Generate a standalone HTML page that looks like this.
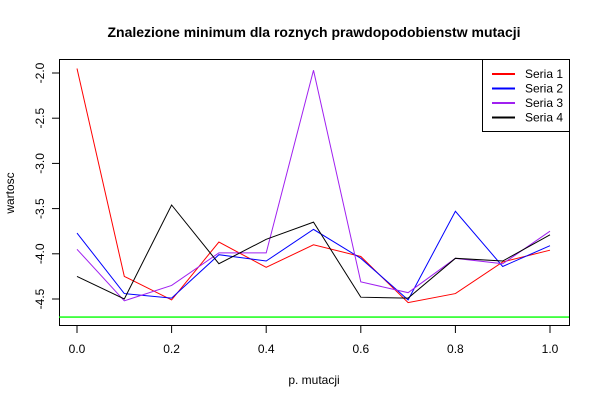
<!DOCTYPE html>
<html><head><meta charset="utf-8"><style>
body{margin:0;background:#fff}
svg text{font-family:"Liberation Sans",Arial,sans-serif;font-size:12px}
</style></head><body>
<svg id="c" width="600" height="400"></svg>
<script>
const xs=[0,0.1,0.2,0.3,0.4,0.5,0.6,0.7,0.8,0.9,1.0];
const seria1=[-1.95,-4.25,-4.51,-3.87,-4.15,-3.90,-4.03,-4.54,-4.44,-4.09,-3.96];
const seria2=[-3.77,-4.44,-4.49,-4.01,-4.08,-3.73,-4.05,-4.51,-3.53,-4.14,-3.91];
const seria3=[-3.95,-4.52,-4.35,-3.99,-3.99,-1.97,-4.31,-4.43,-4.05,-4.11,-3.75];
const seria4=[-4.25,-4.50,-3.46,-4.11,-3.84,-3.65,-4.48,-4.49,-4.05,-4.08,-3.79];
const refLine=-4.7;
const xTicks=[0,0.2,0.4,0.6,0.8,1.0];
const xTickLabels=["0.0","0.2","0.4","0.6","0.8","1.0"];
const yTicks=[-2.0,-2.5,-3.0,-3.5,-4.0,-4.5];
const yTickLabels=["-2.0","-2.5","-3.0","-3.5","-4.0","-4.5"];
const seriesNames=["Seria 1","Seria 2","Seria 3","Seria 4"];
const seriesColors=["#ff0000","#0000ff","#a020f0","#000000"];
const series=[seria1,seria2,seria3,seria4];

const NS="http://www.w3.org/2000/svg";
const svg=document.getElementById('c');
const X=v=>77+v*473;
const Y=v=>73+(-2-v)*90.4;
function mk(tag,attrs,parent){const e=document.createElementNS(NS,tag);for(const k in attrs)e.setAttribute(k,attrs[k]);(parent||svg).appendChild(e);return e;}

let t=mk('text',{x:314,y:37,'text-anchor':'middle','font-weight':'bold','style':'font-size:14px'});
t.textContent='Znalezione minimum dla roznych prawdopodobienstw mutacji';



let box=mk('rect',{x:59.5,y:59.5,width:510,height:266,fill:'none',stroke:'#000'});



let g=mk('line',{x1:59,x2:569,y1:Y(refLine),y2:Y(refLine),stroke:'#00ff00','stroke-width':1.3});



series.forEach((s,i)=>{
  const p=mk('polyline',{points:s.map((v,j)=>X(xs[j])+','+Y(v)).join(' '),fill:'none',stroke:seriesColors[i],'stroke-width':1});
  
  
});

xTicks.forEach((v,i)=>{
  mk('line',{x1:X(v),x2:X(v),y1:326,y2:333,stroke:'#000'});
  const tx=mk('text',{x:X(v),y:353,'text-anchor':'middle'});
  tx.textContent=xTickLabels[i];
  
  
});
yTicks.forEach((v,i)=>{
  mk('line',{x1:52,x2:59,y1:Y(v),y2:Y(v),stroke:'#000'});
  const ty=mk('text',{x:44,y:Y(v),'text-anchor':'middle',transform:'rotate(-90 44 '+Y(v)+')'});
  ty.textContent=yTickLabels[i];
  
  
});
let xl=mk('text',{x:314,y:384,'text-anchor':'middle'});xl.textContent='p. mutacji';


let yl=mk('text',{x:14,y:193,'text-anchor':'middle',transform:'rotate(-90 14 193)'});yl.textContent='wartosc';



const lg=mk('g',{});


mk('rect',{x:482.5,y:59.5,width:87,height:72,fill:'#fff',stroke:'#000'},lg);
seriesNames.forEach((n,i)=>{
  const yy=74+i*14.5;
  mk('line',{x1:492,x2:515,y1:yy,y2:yy,stroke:seriesColors[i],'stroke-width':2},lg);
  const e=mk('text',{x:525,y:yy+4},lg);e.textContent=n;
  
  
});
</script>
</body></html>
